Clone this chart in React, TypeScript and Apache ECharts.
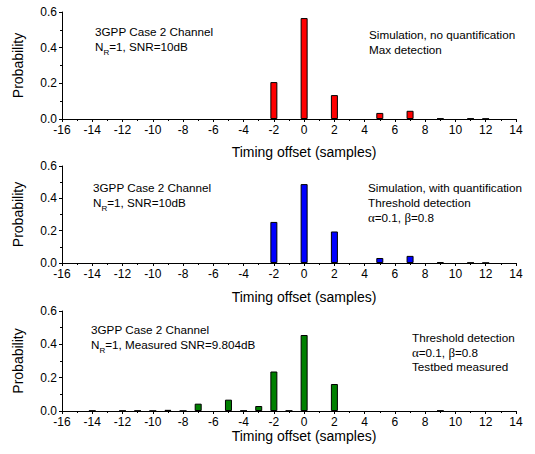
import React, { useEffect, useRef } from 'react';
import * as echarts from 'echarts';

const offsets1 = [-2, 0, 2, 5, 7, 9, 11, 12];
const probs1 = [0.207, 0.566, 0.134, 0.034, 0.046, 0.003, 0.003, 0.002];
const offsets2 = [-2, 0, 2, 5, 7, 9, 11, 12];
const probs2 = [0.254, 0.488, 0.195, 0.031, 0.044, 0.005, 0.002, 0.001];
const offsets3 = [-14, -12, -11, -10, -9, -8, -7, -5, -4, -3, -2, -1, 0, 2, 9];
const probs3 = [0.002, 0.002, 0.002, 0.001, 0.007, 0.001, 0.044, 0.068, 0.002, 0.03, 0.237, 0.002, 0.456, 0.162, 0.002];
const barColors = ['#ff0000', '#0000ff', '#008000'];
const xMin = -16;
const xMax = 14;
const xStep = 2;
const yMin = 0;
const yMax = 0.6;
const yStep = 0.2;
const xTitle = 'Timing offset (samples)';
const yTitle = 'Probability';

const FONT = '"Liberation Sans", Arial, sans-serif';

export default function App() {
  const ref = useRef<HTMLDivElement>(null);
  useEffect(() => {
    if (!ref.current) return;
    const chart = echarts.init(ref.current, undefined, { renderer: 'svg' });
    const grids = [
      { left: 62, width: 454, top: 12, height: 107 },
      { left: 62, width: 454, top: 166, height: 97 },
      { left: 62, width: 454, top: 311, height: 100 },
    ];
    const datasets = [
      offsets1.map((x, i) => [x, probs1[i]]),
      offsets2.map((x, i) => [x, probs2[i]]),
      offsets3.map((x, i) => [x, probs3[i]]),
    ];
    const axisCommon = {
      axisTick: { show: true, inside: false, length: 3, lineStyle: { color: '#000' } },
      minorTick: { show: true, splitNumber: 2, length: 2, lineStyle: { color: '#000' } },
      splitLine: { show: false },
      minorSplitLine: { show: false },
    };
    const xAxis = grids.map((_, i) => ({
      type: 'value',
      gridIndex: i,
      min: xMin,
      max: xMax,
      interval: xStep,
      ...axisCommon,
      axisLine: { show: true, onZero: false, lineStyle: { color: '#000', width: 1 } },
      axisLabel: { color: '#000', fontSize: 12, fontFamily: FONT, margin: 5, showMaxLabel: true, showMinLabel: true },
    }));
    const yAxis = grids.map((_, i) => ({
      type: 'value',
      gridIndex: i,
      min: yMin,
      max: yMax,
      interval: yStep,
      ...axisCommon,
      axisLine: { show: true, onZero: false, lineStyle: { color: '#000', width: 1 } },
      axisLabel: {
        color: '#000', fontSize: 12, fontFamily: FONT, margin: 5,
        formatter: (v: number) => v.toFixed(1),
      },
    }));
    const series = datasets.map((d, i) => ({
      type: 'bar',
      xAxisIndex: i,
      yAxisIndex: i,
      data: d,
      barWidth: 7,
      itemStyle: { color: barColors[i], borderColor: '#000', borderWidth: 1 },
    }));

    const txt = (x: number, y: number, text: string, extra: any = {}) => ({
      type: 'text',
      x, y,
      style: {
        text, fill: '#000', fontSize: 11.7, fontFamily: FONT,
        textAlign: 'left', textVerticalAlign: 'middle',
        ...extra,
      },
    });
    const subRich = {
      s: { fontSize: 8, lineHeight: 8, verticalAlign: 'bottom', fontFamily: FONT, fill: '#000' },
    };
    const greekRich = {
      g: { fontSize: 13, fontFamily: '"Liberation Serif", "DejaVu Serif", serif', fill: '#000' },
    };
    const graphic: any[] = [
      // panel 1
      txt(95, 31, '3GPP Case 2 Channel'),
      txt(95, 46, 'N{s|R}=1, SNR=10dB', { rich: subRich, lineHeight: 20 }),
      txt(369, 34, 'Simulation, no quantification'),
      txt(369, 49, 'Max detection'),
      // panel 2
      txt(93, 187, '3GPP Case 2 Channel'),
      txt(93, 202, 'N{s|R}=1, SNR=10dB', { rich: subRich, lineHeight: 20 }),
      txt(368, 187, 'Simulation, with quantification'),
      txt(368, 202, 'Threshold detection'),
      txt(368, 217, '{g|α}=0.1, {g|β}=0.8', { rich: greekRich }),
      // panel 3
      txt(91, 329, '3GPP Case 2 Channel'),
      txt(91, 344, 'N{s|R}=1, Measured SNR=9.804dB', { rich: subRich, lineHeight: 20 }),
      txt(412, 337, 'Threshold detection'),
      txt(412, 352, '{g|α}=0.1, {g|β}=0.8', { rich: greekRich }),
      txt(412, 366, 'Testbed measured'),
      // axis titles
      txt(304, 152, xTitle, { fontSize: 14, textAlign: 'center' }),
      txt(304, 297, xTitle, { fontSize: 14, textAlign: 'center' }),
      txt(304, 436, xTitle, { fontSize: 14, textAlign: 'center' }),
      { ...txt(18, 65.5, yTitle, { fontSize: 14, textAlign: 'center' }), rotation: Math.PI / 2 },
      { ...txt(18, 214.5, yTitle, { fontSize: 14, textAlign: 'center' }), rotation: Math.PI / 2 },
      { ...txt(18, 361, yTitle, { fontSize: 14, textAlign: 'center' }), rotation: Math.PI / 2 },
    ];

    chart.setOption({
      animation: false,
      backgroundColor: '#fff',
      grid: grids,
      xAxis,
      yAxis,
      series,
      graphic,
    } as any);
    return () => chart.dispose();
  }, []);
  return <div ref={ref} style={{ position: 'absolute', left: 0, top: 0, width: 535, height: 454 }} />;
}
